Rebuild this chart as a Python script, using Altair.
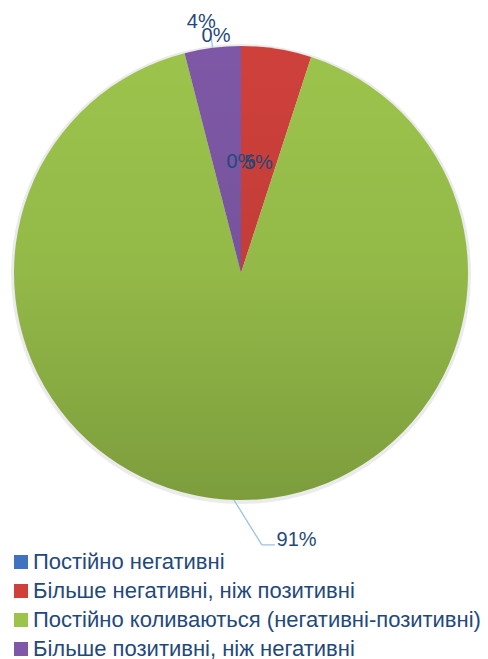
import altair as alt
import pandas as pd

categories = [
    "Постійно негативні",
    "Більше негативні, ніж позитивні",
    "Постійно коливаються (негативні-позитивні)",
    "Більше позитивні, ніж негативні",
    "Постійно позитивні",
]
values = [0, 5, 91, 4, 0]
labels = ["0%", "5%", "91%", "4%", "0%"]
colors = ["#3F73BF", "#CF403B", "#9CC44C", "#7E58A6", "#4BACC6"]

df = pd.DataFrame({
    "category": categories,
    "value": values,
    "label": labels,
    "order": list(range(len(categories))),
})

CX, CY, R = 241, 273, 227
W, H = 488, 659
TXT = "#1F497D"
FONT = "Liberation Sans"

color_scale = alt.Scale(domain=categories, range=colors)

pie = alt.Chart(df).mark_arc(radius=R, stroke=None).encode(
    theta=alt.Theta("value:Q", stack=True),
    order=alt.Order("order:Q"),
    color=alt.Color(
        "category:N",
        scale=color_scale,
        sort=categories,
        legend=alt.Legend(
            title=None,
            orient="none",
            legendX=10,
            legendY=551,
            symbolType="square",
            symbolSize=196,
            symbolStrokeWidth=0,
            symbolOpacity=1,
            labelFont=FONT,
            labelFontSize=22,
            labelColor=TXT,
            labelOffset=1,
            labelLimit=600,
            rowPadding=7,
            padding=0,
        ),
    ),
    x=alt.value(CX),
    y=alt.value(CY),
)

shade = alt.Chart(df).transform_filter("datum.order == 0").mark_arc(
    radius=R,
    theta=0,
    theta2=6.28318,
    fill=alt.LinearGradient(
        gradient="linear",
        x1=0, x2=0, y1=0, y2=1,
        stops=[
            alt.GradientStop(color="rgba(0,0,0,0.0)", offset=0),
            alt.GradientStop(color="rgba(0,0,0,0.06)", offset=0.5),
            alt.GradientStop(color="rgba(0,0,0,0.2)", offset=1),
        ],
    ),
).encode(x=alt.value(CX), y=alt.value(CY))

shadow = alt.Chart(df).transform_filter("datum.order == 0").mark_arc(
    radius=R + 3,
    theta=0,
    theta2=6.28318,
    fill="#000000",
    opacity=0.08,
).encode(x=alt.value(CX), y=alt.value(CY + 1))

base = alt.Chart(df).transform_window(
    cum="sum(value)", sort=[{"field": "order"}], frame=[None, 0]
).transform_joinaggregate(
    total="sum(value)"
).transform_calculate(
    mid="2*PI*(datum.cum - datum.value/2)/datum.total"
)


def pos(r, dx=0, dy=0):
    return {
        "px": f"{CX} + {r}*sin(datum.mid) + {dx}",
        "py": f"{CY} - {r}*cos(datum.mid) + {dy}",
    }


def label_layer(filt, r, dx=0, dy=0, align="center"):
    return base.transform_filter(filt).transform_calculate(**pos(r, dx, dy)).mark_text(
        font=FONT, fontSize=20, color=TXT, align=align, baseline="middle"
    ).encode(
        x=alt.X("px:Q", scale=None),
        y=alt.Y("py:Q", scale=None),
        text="label:N",
    )


inner = label_layer("datum.order <= 1", 111)
purple_lbl = label_layer("datum.order == 3", 253, dx=-8)
last_lbl = label_layer("datum.order == 4", 237, dx=-25)
green_lbl = label_layer("datum.order == 2", 267, dx=44, dy=0, align="left")


def leader(filt, r1, r2, dx1=0, dy1=0, dx2=0, dy2=0):
    return base.transform_filter(filt).transform_calculate(
        ax=f"{CX} + {r1}*sin(datum.mid) + {dx1}",
        ay=f"{CY} - {r1}*cos(datum.mid) + {dy1}",
        bx=f"{CX} + {r2}*sin(datum.mid) + {dx2}",
        by=f"{CY} - {r2}*cos(datum.mid) + {dy2}",
    ).mark_rule(color="#9DC3E6", strokeWidth=1.3).encode(
        x=alt.X("ax:Q", scale=None),
        y=alt.Y("ay:Q", scale=None),
        x2="bx:Q",
        y2="by:Q",
    )


lead_purple = leader("datum.order == 3", R, R + 9)
lead_green1 = leader("datum.order == 2", R, R, dx2=28, dy2=45)
lead_green2 = leader("datum.order == 2", R, R, dx1=28, dy1=45, dx2=41, dy2=45)

chart = alt.layer(
    shadow, pie, shade, lead_purple, lead_green1, lead_green2,
    inner, purple_lbl, last_lbl, green_lbl,
).properties(
    width=W, height=H, autosize=alt.AutoSizeParams(type="none"), padding=0
).configure_view(stroke=None)

chart.save("out.html", embed_options={"renderer": "svg", "actions": False})
